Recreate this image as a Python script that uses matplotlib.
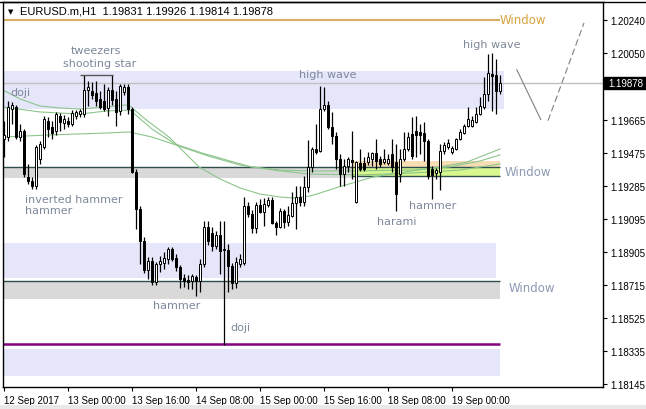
import matplotlib
matplotlib.use('Agg')
import matplotlib.pyplot as plt
import matplotlib.transforms as mtransforms
from matplotlib.patches import Rectangle

# EURUSD H1 candles
opens = [1.19556, 1.19567, 1.19728, 1.19740, 1.19567, 1.19602, 1.19337, 1.19314, 1.19285, 1.19441,
         1.19510, 1.19659, 1.19625, 1.19602, 1.19688, 1.19648, 1.19659, 1.19642, 1.19688, 1.19699,
         1.19699, 1.19837, 1.19832, 1.19820, 1.19786, 1.19774, 1.19734, 1.19837, 1.19786, 1.19717,
         1.19826, 1.19855, 1.19728, 1.19366, 1.19153, 1.18969, 1.18802, 1.18854, 1.18733, 1.18837,
         1.18843, 1.18866, 1.18923, 1.18871, 1.18820, 1.18756, 1.18745, 1.18739, 1.18762, 1.18739,
         1.18837, 1.19050, 1.19015, 1.18940, 1.19004, 1.18917, 1.18917, 1.18825, 1.18728, 1.18837,
         1.18843, 1.19170, 1.19124, 1.19044, 1.19176, 1.19136, 1.19176, 1.19205, 1.19073, 1.19050,
         1.19142, 1.19078, 1.19113, 1.19188, 1.19222, 1.19193, 1.19280, 1.19395, 1.19498, 1.19487,
         1.19728, 1.19751, 1.19625, 1.19573, 1.19441, 1.19354, 1.19400, 1.19435, 1.19193, 1.19418,
         1.19418, 1.19423, 1.19441, 1.19475, 1.19441, 1.19423, 1.19418, 1.19469, 1.19423, 1.19354,
         1.19441, 1.19498, 1.19584, 1.19602, 1.19596, 1.19590, 1.19544, 1.19383, 1.19360, 1.19366,
         1.19487, 1.19510, 1.19481, 1.19498, 1.19556, 1.19590, 1.19630, 1.19630, 1.19653, 1.19699,
         1.19740, 1.19814, 1.19929, 1.19924, 1.19831]
highs = [1.19659, 1.19774, 1.19768, 1.19751, 1.19642, 1.19613, 1.19412, 1.19337, 1.19521, 1.19544,
         1.19688, 1.19682, 1.19659, 1.19711, 1.19705, 1.19694, 1.19682, 1.19722, 1.19722, 1.19728,
         1.19924, 1.19889, 1.19883, 1.19889, 1.19832, 1.19872, 1.19855, 1.19924, 1.19832, 1.19872,
         1.19872, 1.19872, 1.19740, 1.19383, 1.19170, 1.18992, 1.18877, 1.18877, 1.18848, 1.18883,
         1.18906, 1.18935, 1.18935, 1.18894, 1.18831, 1.18779, 1.18774, 1.18779, 1.18774, 1.18866,
         1.19084, 1.19084, 1.19050, 1.19027, 1.19084, 1.19084, 1.18952, 1.18843, 1.18877, 1.18894,
         1.19222, 1.19193, 1.19147, 1.19193, 1.19211, 1.19216, 1.19222, 1.19222, 1.19084, 1.19159,
         1.19153, 1.19170, 1.19251, 1.19285, 1.19285, 1.19343, 1.19550, 1.19510, 1.19642, 1.19860,
         1.19855, 1.19774, 1.19711, 1.19596, 1.19469, 1.19441, 1.19452, 1.19602, 1.19429, 1.19498,
         1.19452, 1.19481, 1.19481, 1.19556, 1.19458, 1.19498, 1.19469, 1.19556, 1.19527, 1.19498,
         1.19596, 1.19596, 1.19682, 1.19688, 1.19642, 1.19653, 1.19556, 1.19400, 1.19389, 1.19527,
         1.19538, 1.19556, 1.19515, 1.19561, 1.19613, 1.19642, 1.19740, 1.19688, 1.19740, 1.19797,
         1.19912, 1.20044, 1.20050, 1.20016, 1.19926]
lows = [1.19452, 1.19544, 1.19642, 1.19556, 1.19544, 1.19337, 1.19297, 1.19268, 1.19268, 1.19412,
        1.19498, 1.19567, 1.19556, 1.19579, 1.19602, 1.19613, 1.19625, 1.19630, 1.19671, 1.19682,
        1.19682, 1.19745, 1.19786, 1.19745, 1.19728, 1.19717, 1.19688, 1.19751, 1.19630, 1.19694,
        1.19809, 1.19699, 1.19360, 1.19038, 1.18837, 1.18785, 1.18751, 1.18716, 1.18716, 1.18791,
        1.18808, 1.18837, 1.18854, 1.18797, 1.18699, 1.18705, 1.18693, 1.18693, 1.18653, 1.18676,
        1.18820, 1.18946, 1.18912, 1.18923, 1.18779, 1.18371, 1.18676, 1.18693, 1.18699, 1.18820,
        1.18831, 1.19107, 1.19015, 1.19015, 1.19130, 1.19055, 1.19165, 1.19067, 1.19004, 1.19044,
        1.19044, 1.19055, 1.19107, 1.19038, 1.19170, 1.19170, 1.19251, 1.19366, 1.19469, 1.19481,
        1.19717, 1.19613, 1.19527, 1.19383, 1.19285, 1.19285, 1.19366, 1.19326, 1.19188, 1.19372,
        1.19372, 1.19406, 1.19400, 1.19383, 1.19395, 1.19412, 1.19406, 1.19366, 1.19142, 1.19308,
        1.19429, 1.19487, 1.19441, 1.19452, 1.19469, 1.19429, 1.19326, 1.19211, 1.19326, 1.19262,
        1.19469, 1.19498, 1.19469, 1.19492, 1.19550, 1.19584, 1.19625, 1.19625, 1.19648, 1.19694,
        1.19728, 1.19774, 1.19717, 1.19699, 1.19814]
closes = [1.19579, 1.19740, 1.19751, 1.19567, 1.19602, 1.19354, 1.19314, 1.19285, 1.19510, 1.19527,
          1.19671, 1.19613, 1.19590, 1.19699, 1.19653, 1.19671, 1.19642, 1.19705, 1.19711, 1.19717,
          1.19837, 1.19855, 1.19809, 1.19774, 1.19740, 1.19728, 1.19837, 1.19780, 1.19711, 1.19860,
          1.19855, 1.19728, 1.19366, 1.19153, 1.18969, 1.18802, 1.18854, 1.18733, 1.18837, 1.18854,
          1.18871, 1.18923, 1.18866, 1.18820, 1.18751, 1.18739, 1.18733, 1.18768, 1.18739, 1.18837,
          1.19050, 1.18969, 1.18940, 1.19004, 1.18912, 1.18923, 1.18825, 1.18728, 1.18848, 1.18866,
          1.19170, 1.19124, 1.19044, 1.19176, 1.19136, 1.19182, 1.19205, 1.19073, 1.19050, 1.19142,
          1.19078, 1.19119, 1.19188, 1.19222, 1.19193, 1.19280, 1.19395, 1.19498, 1.19481, 1.19728,
          1.19751, 1.19625, 1.19573, 1.19441, 1.19354, 1.19400, 1.19441, 1.19423, 1.19423, 1.19383,
          1.19383, 1.19452, 1.19475, 1.19429, 1.19412, 1.19441, 1.19441, 1.19395, 1.19239, 1.19441,
          1.19498, 1.19567, 1.19458, 1.19579, 1.19579, 1.19544, 1.19343, 1.19349, 1.19377, 1.19487,
          1.19521, 1.19533, 1.19504, 1.19556, 1.19596, 1.19630, 1.19671, 1.19665, 1.19699, 1.19745,
          1.19814, 1.19935, 1.19918, 1.19832, 1.19878]

# moving averages (sampled along the green curves)
ma1_idx = [-0.25, 4, 9, 14, 19, 25.75, 30.25, 31.5, 35.25, 41.25, 48.75, 54, 59, 64, 69, 72.75, 76.5, 79, 83.75, 92.25, 102, 109, 115.75, 124]
ma1_val = [1.19837, 1.19786, 1.19745, 1.19734, 1.19728, 1.19740, 1.19751, 1.19745, 1.19671, 1.19567, 1.19395, 1.19326,
           1.19274, 1.19239, 1.19222, 1.19216, 1.19228, 1.19245, 1.19280, 1.19337, 1.19372, 1.19395, 1.19423, 1.19498]
ma2_idx = [-0.25, 9, 19, 25.75, 31.5, 37, 42.75, 49.5, 56.5, 61.75, 69, 76.5, 86.5, 102, 111.5, 119, 124]
ma2_val = [1.19740, 1.19711, 1.19699, 1.19717, 1.19722, 1.19613, 1.19527, 1.19475, 1.19429, 1.19395, 1.19377, 1.19372,
           1.19372, 1.19377, 1.19395, 1.19429, 1.19464]
ma3_idx = [-0.25, 11.5, 25.75, 31.25, 37, 43.75, 51, 59, 69, 76.5, 89, 102, 114, 124]
ma3_val = [1.19567, 1.19579, 1.19590, 1.19596, 1.19567, 1.19515, 1.19458, 1.19406, 1.19372, 1.19354, 1.19349, 1.19360,
           1.19377, 1.19412]

x_tick_idx = [0, 16, 32, 48, 64, 80, 96, 112]
x_tick_labels = ['12 Sep 2017', '13 Sep 00:00', '13 Sep 16:00', '14 Sep 08:00',
                 '15 Sep 00:00', '15 Sep 16:00', '18 Sep 08:00', '19 Sep 00:00']
y_ticks = [1.18145, 1.18335, 1.18525, 1.18715, 1.18905, 1.19095, 1.19285, 1.19475, 1.19665, 1.20050, 1.20240]
last_price = 1.19878

# pattern labels: (text, bar index, price, ha)
pattern_labels = [
    ('tweezers', 23, 1.20068, 'center'),
    ('shooting star', 24, 1.19993, 'center'),
    ('doji', 1.5, 1.19826, 'left'),
    ('inverted hammer', 5.25, 1.19211, 'left'),
    ('hammer', 5.25, 1.19145, 'left'),
    ('hammer', 43.1, 1.18603, 'center'),
    ('doji', 59, 1.18475, 'center'),
    ('high wave', 81, 1.19928, 'center'),
    ('harami', 98.1, 1.19084, 'center'),
    ('hammer', 107.1, 1.19178, 'center'),
    ('high wave', 121.9, 1.20104, 'center'),
]

fig = plt.figure(figsize=(6.46, 4.10), dpi=100)
fig.patch.set_facecolor('white')
ax = fig.add_axes([3 / 646, 22 / 410, 600 / 646, 385 / 410])
ax.set_xlim(-0.25, 149.75)
ax.set_ylim(1.181295, 1.203433)

# zones
ax.add_patch(Rectangle((-0.25, 1.19728), 125.25, 1.19947 - 1.19728, color='#E6E6FA', lw=0, zorder=0.5))
ax.add_patch(Rectangle((-0.25, 1.18758), 123.25, 1.18958 - 1.18758, color='#E6E6FA', lw=0, zorder=0.5))
ax.add_patch(Rectangle((-0.25, 1.18193), 124.25, 1.18348 - 1.18193, color='#E6E6FA', lw=0, zorder=0.5))
ax.add_patch(Rectangle((-0.25, 1.19331), 87.25, 1.19393 - 1.19331, color='#D9D9D9', lw=0, zorder=0.5))
ax.add_patch(Rectangle((87, 1.19393), 37, 1.19431 - 1.19393, color='#F7DDB4', lw=0, zorder=0.5))
ax.add_patch(Rectangle((87, 1.19340), 37, 1.19393 - 1.19340, color='#D8F78E', lw=0, zorder=0.5))
ax.add_patch(Rectangle((-0.25, 1.18636), 124.25, 1.18737 - 1.18636, color='#D9D9D9', lw=0, zorder=0.5))
ax.hlines(1.19393, -0.25, 124, color='#2F4F4F', lw=1, zorder=1)
ax.hlines(1.19340, 87, 124, color='#2F4F4F', lw=1, zorder=1)
ax.hlines(1.18737, -0.25, 124, color='#2F4F4F', lw=1, zorder=1)
ax.hlines(1.18377, -0.25, 124, color='#800080', lw=1.8, zorder=1)
ax.hlines(1.20242, -0.25, 124, color='#D9AE63', lw=1.5, zorder=1)
ax.axhline(last_price, color='#C0C0C0', lw=1, zorder=1)

# moving averages
for mi, mv in [(ma1_idx, ma1_val), (ma2_idx, ma2_val), (ma3_idx, ma3_val)]:
    ax.plot(mi, mv, color='#8CC58C', lw=0.8, zorder=2)

# candles
idx = list(range(len(opens)))
ax.vlines(idx, lows, highs, color='black', lw=0.9, zorder=3)
for i in idx:
    o, c = opens[i], closes[i]
    bottom = min(o, c)
    h = max(abs(c - o), 0.00002)
    face = 'white' if c >= o else 'black'
    ax.bar(i, h, bottom=bottom, width=0.7, color=face, edgecolor='black', linewidth=0.7, zorder=4)

# tweezers top line
ax.hlines(1.19924, 19, 27.2, color='#555555', lw=1, zorder=4)

# projection lines on the right
ax.plot([128.2, 134.2], [1.19954, 1.19667], color='#808080', lw=0.8, zorder=2)
ax.plot([136, 145], [1.19661, 1.20223], color='#808080', lw=0.8, ls=(0, (6, 3)), zorder=2)

# labels
for txt, xi, yp, ha in pattern_labels:
    ax.text(xi, yp, txt, ha=ha, va='center', fontsize=8, color='#7D889B', family='DejaVu Sans', zorder=5)
ax.text(124, 1.20244, 'Window', ha='left', va='center', fontsize=8.5, color='#D6A23E', zorder=5)
ax.text(125.25, 1.19369, 'Window', ha='left', va='center', fontsize=8.5, color='#8C9AB2', zorder=5)
ax.text(126.25, 1.18702, 'Window', ha='left', va='center', fontsize=8.5, color='#8C9AB2', zorder=5)

# axes styling
for s in ax.spines.values():
    s.set_color('black')
    s.set_linewidth(1)
ax.yaxis.tick_right()
ax.set_yticks(y_ticks)
ax.set_yticklabels(['%.5f' % v for v in y_ticks])
ax.set_xticks(x_tick_idx)
ax.set_xticklabels(x_tick_labels, ha='left')
ax.tick_params(axis='both', direction='out', length=3, width=0.8, labelsize=7, pad=2.5)
for lab in ax.get_xticklabels() + ax.get_yticklabels():
    lab.set_family('Liberation Sans')

# current price box
trans = mtransforms.blended_transform_factory(fig.transFigure, ax.transData)
ax.add_patch(Rectangle((604 / 646, last_price - 0.00035), 42 / 646, 0.0007, transform=trans,
                       color='black', clip_on=False, zorder=6))
ax.text(608 / 646, last_price, '%.5f' % last_price, transform=trans, color='white', fontsize=7,
        family='Liberation Sans', va='center', ha='left', clip_on=False, zorder=7)

# header
fig.text(8 / 646, 1 - 12 / 410, '\u25BC', fontsize=5, va='center', ha='left', color='black')
fig.text(20 / 646, 1 - 12 / 410, 'EURUSD.m,H1  %.5f %.5f %.5f %.5f' % (opens[-1], highs[-1], lows[-1], closes[-1]),
         fontsize=8, va='center', ha='left', family='Liberation Sans', color='black')
fig.add_artist(plt.Line2D([0, 1], [1 - 3 / 410, 1 - 3 / 410], color='black', lw=1, transform=fig.transFigure))
fig.add_artist(Rectangle((0, 0), 1, 4 / 410, transform=fig.transFigure, color='#E8E8E8', lw=0))

fig.savefig('out.png', dpi=100)
